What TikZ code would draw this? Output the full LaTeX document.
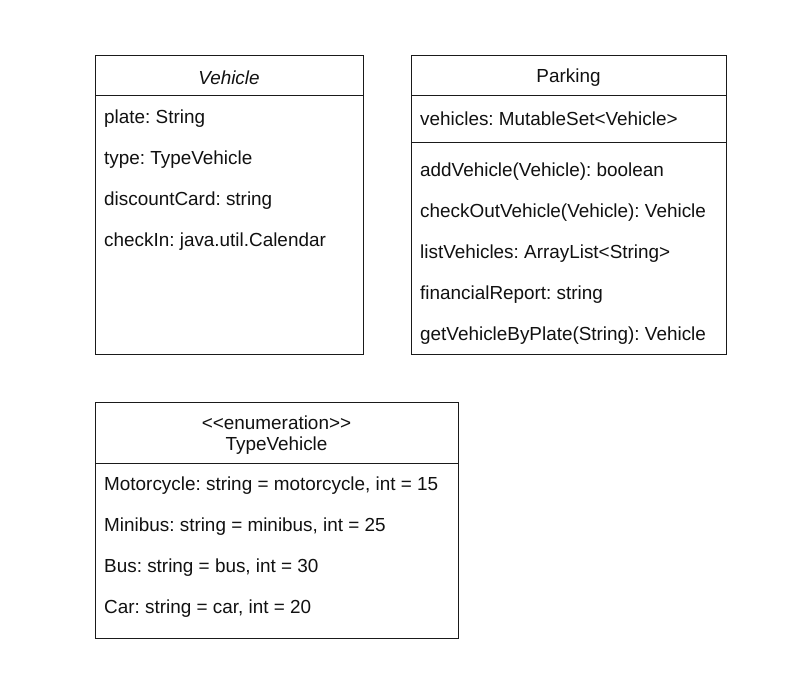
\documentclass[tikz,border=0pt]{standalone}
\usepackage{fontspec}
\setmainfont{Liberation Sans}
\usepackage{tikz}
\usetikzlibrary{positioning, calc}
\definecolor{umlLine}{HTML}{1A1A1A}
\definecolor{umlText}{HTML}{111111}
\frenchspacing

\begin{document}
\begin{tikzpicture}[x=1pt, y=-1pt,
    umlbox/.style={draw=umlLine, line width=1pt, fill=white, anchor=north west, inner sep=0pt},
    umlrow/.style={anchor=west, inner sep=0pt, yshift=-2pt, text=umlText, font=\fontsize{18.9}{21}\selectfont},
    umlhead/.style={umlrow, anchor=center, align=center}]
  % rama
  \useasboundingbox[fill=white] (0,0) rectangle (790,690);
  % klasa Vehicle
  \node[umlbox, minimum width=268pt, minimum height=299pt] (vehicle) at (95,55){};
  \draw[umlLine, line width=1pt] (95,96) -- (363,96);
  \node[umlhead, font=\fontsize{18.9}{21}\selectfont\itshape] (vehicleName) at (229,76){Vehicle};
  \node[umlrow] (vPlate) at (104,117){plate: String};
  \node[umlrow] (vType) at (104,158){type: TypeVehicle};
  \node[umlrow] (vCard) at (104,199){discountCard: string};
  \node[umlrow] (vCheck) at (104,240){checkIn: java.util.Calendar};
  % klasa Parking
  \node[umlbox, minimum width=315pt, minimum height=299pt] (parking) at (411,55){};
  \draw[umlLine, line width=1pt] (411,96) -- (726,96);
  \draw[umlLine, line width=1pt] (411,143) -- (726,143);
  \node[umlhead] (parkingName) at (568.5,76){Parking};
  \node[umlrow] (pSet) at (420,117){vehicles: MutableSet<Vehicle>};
  \node[umlrow] (pAdd) at (420,170){addVehicle(Vehicle): boolean};
  \node[umlrow] (pOut) at (420,211){checkOutVehicle(Vehicle): Vehicle};
  \node[umlrow] (pList) at (420,252){listVehicles: ArrayList<String>};
  \node[umlrow] (pReport) at (420,293){financialReport: string};
  \node[umlrow] (pPlate) at (420,334){getVehicleByPlate(String): Vehicle};
  % enum TypeVehicle
  \node[umlbox, minimum width=363pt, minimum height=236pt] (typeVehicle) at (95,402){};
  \draw[umlLine, line width=1pt] (95,463) -- (458,463);
  \node[umlhead, font=\fontsize{18.9}{21}\selectfont] (typeName) at (276.5,433){<\kern0pt<enumeration>\kern0pt>\\TypeVehicle};
  \node[umlrow] (tMoto) at (104,484){Motorcycle: string = motorcycle, int = 15};
  \node[umlrow] (tMini) at (104,525){Minibus: string = minibus, int = 25};
  \node[umlrow] (tBus) at (104,566){Bus: string = bus, int = 30};
  \node[umlrow] (tCar) at (104,607){Car: string = car, int = 20};
\end{tikzpicture}
\end{document}
